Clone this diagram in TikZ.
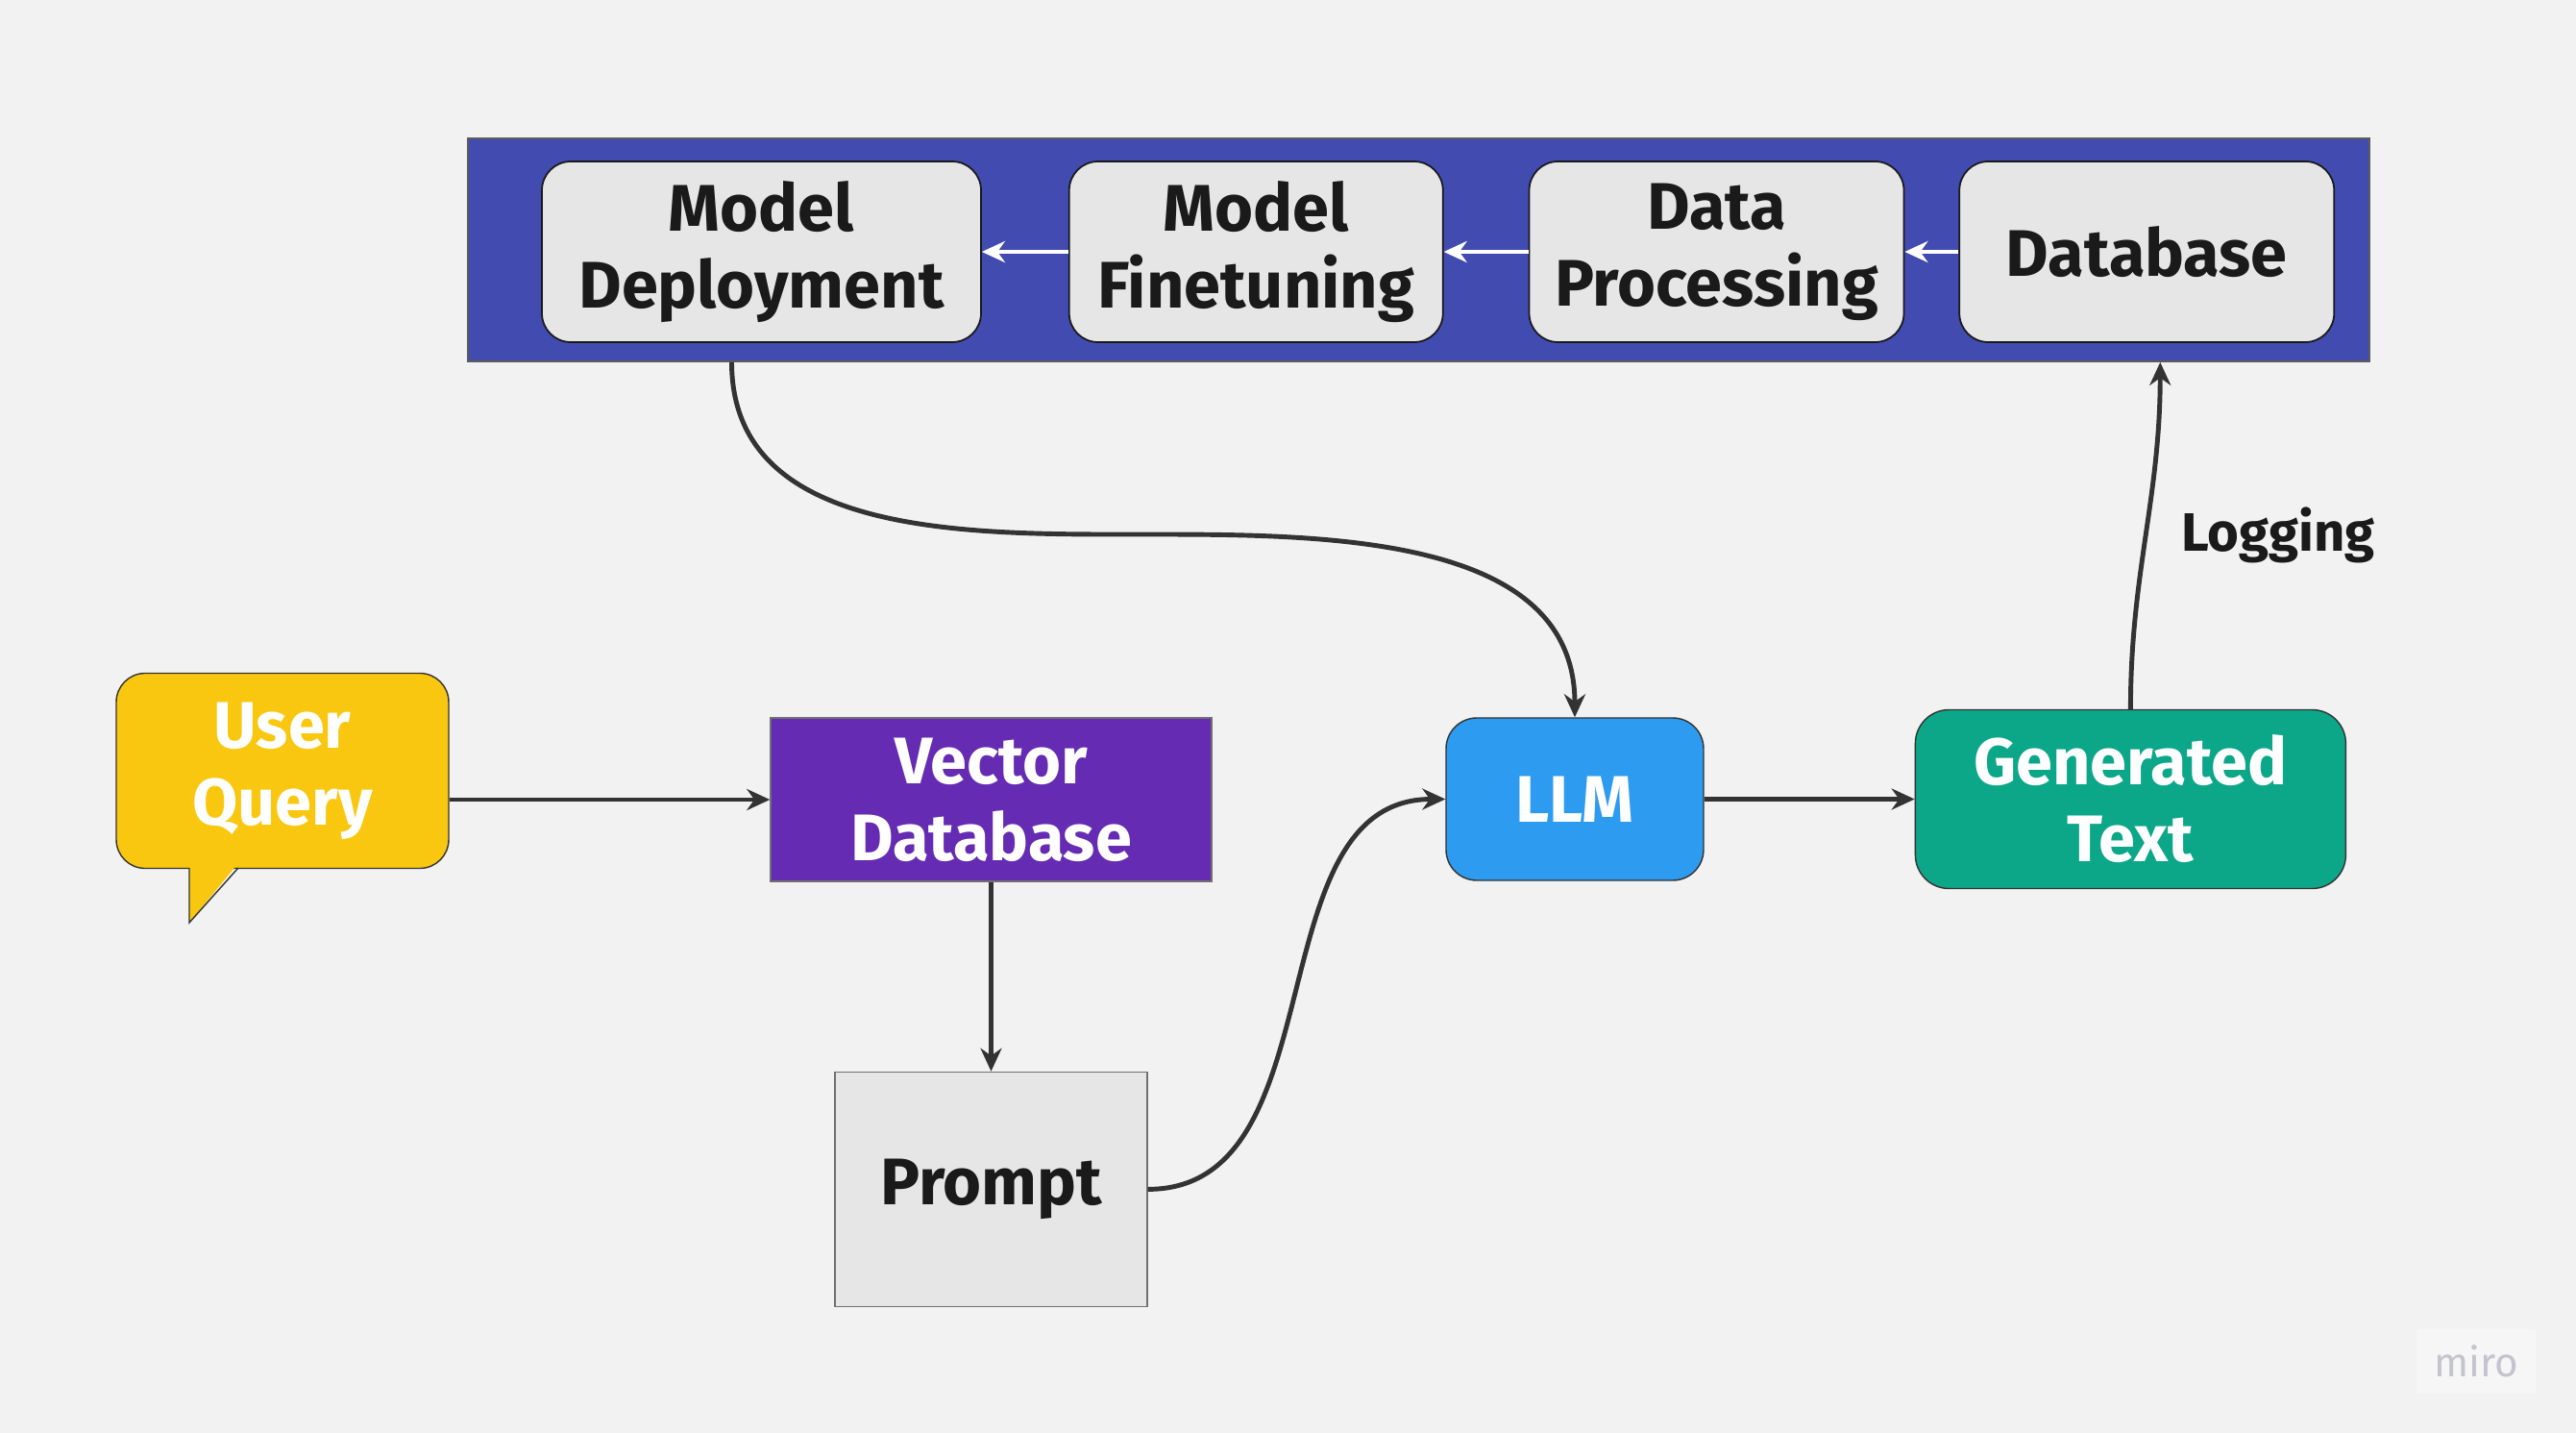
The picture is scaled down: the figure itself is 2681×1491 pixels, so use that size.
\documentclass[tikz,border=0pt]{standalone}
\usepackage{fontspec}
\setmainfont{Fira Sans}
\usetikzlibrary{positioning,arrows.meta}
\definecolor{bgcol}{HTML}{F2F2F2}
\definecolor{bandcol}{HTML}{424BB0}
\definecolor{boxcol}{HTML}{E6E6E6}
\definecolor{quecol}{HTML}{FAC710}
\definecolor{veccol}{HTML}{652CB3}
\definecolor{llmcol}{HTML}{2D9BF0}
\definecolor{gencol}{HTML}{0CA789}
\definecolor{linecol}{HTML}{333333}
\definecolor{txtcol}{HTML}{1A1A1A}
\definecolor{markcol}{HTML}{C4C4CE}
\newcommand{\lbl}{\bfseries\fontsize{19.5}{22.8}\selectfont}
\begin{document}
\begin{tikzpicture}[x=0.1mm, y=-0.1mm,
		stage/.style = {draw=txtcol, line width=0.5pt, fill=boxcol, rounded corners=3mm, align=center, inner sep=0pt, minimum width=39mm, minimum height=18.8mm, text=txtcol, font=\lbl},
		flat/.style = {draw=linecol!70, line width=0.4pt, align=center, inner sep=0pt, font=\lbl},
		round/.style = {draw=linecol, line width=0.4pt, rounded corners=3.2mm, align=center, inner sep=0pt, text=white, font=\lbl},
		conn/.style = {draw=linecol, line width=1.4pt, -{Stealth[length=2.4mm,width=2.2mm]}},
		back/.style = {draw=white, line width=1.4pt, -{Stealth[length=2.4mm,width=2.2mm]}}]
	\fill[bgcol] (0,0) rectangle (2681,1491);
	\useasboundingbox (0,0) rectangle (2681,1491);
	% pipeline band
	\node[draw=linecol!80, line width=0.5pt, fill=bandcol, minimum width=197.9mm, minimum height=23.2mm, inner sep=0pt] (band) at (1476.5,260) {};
	\node[stage, minimum width=45.7mm] (md) at (792.5,262) {Model\\Deployment};
	\node[stage, minimum width=38.9mm, right=9mm of md] (mf) {Model\\Finetuning};
	\node[stage, right=8.8mm of mf] (dp) {Data\\Processing};
	\node[stage, right=5.6mm of dp] (db) {Database};
	\draw[back] (db) -- (dp);
	\draw[back] (dp) -- (mf);
	\draw[back] (mf) -- (md);
	% query path
	\node[round, fill=quecol, minimum width=34.6mm, minimum height=20.3mm, rounded corners=3mm] (uq) at (294,802) {User\\Query};
	\fill[quecol] (197,898) -- (197,960) -- (248,898) -- cycle;
	\draw[linecol, line width=0.4pt] (197,903) -- (197,960) -- (248,903);
	\node[flat, fill=veccol, text=white, minimum width=45.9mm, minimum height=17mm] (vd) at (1031.5,832) {Vector\\Database};
	\node[flat, fill=boxcol, text=txtcol, minimum width=32.5mm, minimum height=24.4mm, below=19.7mm of vd] (pr) {Prompt};
	\node[round, fill=llmcol, minimum width=26.8mm, minimum height=16.9mm] (llm) at (1639,831.5) {LLM};
	\node[round, fill=gencol, minimum width=44.8mm, minimum height=18.6mm, rounded corners=3.5mm, right=21.9mm of llm] (gt) {Generated\\Text};
	\coordinate (dip) at (1200,556);
	\draw[conn] (uq.east |- vd.west) -- (vd.west);
	\draw[conn] (vd) -- (pr);
	\draw[conn] (pr.east) to[out=0, in=180] (llm.west);
	\draw[conn] ([xshift=-3.1mm]md.south |- band.south) to[out=-90, in=180] (dip) to[out=0, in=90] (llm.north);
	\draw[conn] (llm) -- (gt);
	\draw[conn] (gt.north) to[out=90, in=-90] node[right=2.3mm, pos=0.5, text=txtcol, font=\bfseries\fontsize{16}{18}\selectfont] {Logging} ([xshift=1.4mm]db.south |- band.south);
	% watermark
	\node[fill=white!30!bgcol, minimum width=12.4mm, minimum height=6.6mm, inner sep=0pt, text=markcol, font=\fontsize{12}{14}\selectfont] (miro) at (2577,1416) {miro};
\end{tikzpicture}
\end{document}
